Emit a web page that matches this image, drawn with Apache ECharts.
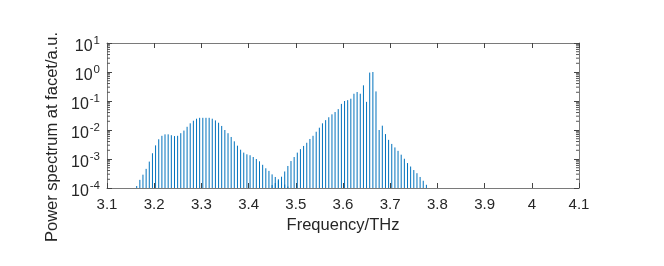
<!DOCTYPE html>
<html>
<head>
<meta charset="utf-8">
<script src="https://cdn.jsdelivr.net/npm/echarts@6/dist/echarts.min.js"></script>
<style>
html,body{margin:0;padding:0;background:#fff;}
#chart{width:664px;height:266px;}
</style>
</head>
<body>
<div id="chart"></div>
<script>
// Frequency bins (THz)
const frequency = [
  3.1629,3.1696,3.1762,3.1829,3.1896,3.1963,3.2029,3.2096,3.2163,3.2229,
  3.2296,3.2363,3.2430,3.2496,3.2563,3.2630,3.2697,3.2763,3.2830,3.2897,
  3.2963,3.3030,3.3097,3.3164,3.3230,3.3297,3.3364,3.3430,3.3497,3.3564,
  3.3631,3.3697,3.3764,3.3831,3.3897,3.3964,3.4031,3.4098,3.4164,3.4231,
  3.4298,3.4365,3.4431,3.4498,3.4565,3.4631,3.4698,3.4765,3.4832,3.4898,
  3.4965,3.5032,3.5098,3.5165,3.5232,3.5299,3.5365,3.5432,3.5499,3.5565,
  3.5632,3.5699,3.5766,3.5832,3.5899,3.5966,3.6033,3.6099,3.6166,3.6232,
  3.6299,3.6366,3.6433,3.6499,3.6566,3.6633,3.6699,3.6766,3.6833,3.6900,
  3.6966,3.7033,3.7100,3.7166,3.7233,3.7300,3.7367,3.7433,3.7500,3.7567,
  3.7634,3.7700,3.7767
];
// Left lobe: bins 0..48
const leftLobe = [
  1.17e-4,1.91e-4,2.88e-4,4.57e-4,8.13e-4,1.58e-3,2.95e-3,4.79e-3,6.31e-3,7.08e-3,
  7.08e-3,6.61e-3,6.17e-3,6.31e-3,7.76e-3,9.55e-3,1.29e-2,1.70e-2,2.09e-2,2.45e-2,
  2.63e-2,2.63e-2,2.63e-2,2.63e-2,2.45e-2,2.14e-2,1.78e-2,1.38e-2,1.00e-2,7.76e-3,
  5.75e-3,4.07e-3,2.88e-3,2.09e-3,1.66e-3,1.45e-3,1.35e-3,1.17e-3,1.00e-3,8.32e-4,
  6.31e-4,4.79e-4,3.89e-4,2.95e-4,2.40e-4,2.00e-4,1.58e-4,1.32e-4,1.12e-4
];
const leftStart = 0;
// Right lobe: bins 43..92
const rightLobe = [
  1.26e-4,1.48e-4,1.82e-4,2.45e-4,3.72e-4,5.75e-4,8.51e-4,1.17e-3,1.66e-3,2.19e-3,
  2.82e-3,3.63e-3,4.90e-3,6.31e-3,8.71e-3,1.20e-2,1.70e-2,2.19e-2,2.75e-2,3.47e-2,
  4.17e-2,5.25e-2,7.94e-2,1.00e-1,1.07e-1,1.20e-1,1.78e-1,2.04e-1,1.78e-1,3.47e-1,
  9.33e-2,9.55e-1,1.00e0,2.14e-1,1.00e-2,1.41e-2,7.24e-3,4.57e-3,3.31e-3,2.51e-3,
  1.91e-3,1.41e-3,1.02e-3,7.24e-4,5.50e-4,4.17e-4,3.24e-4,2.40e-4,1.78e-4,1.29e-4
];
const rightStart = 43;

const xMin = 3.1, xMax = 4.1, xStep = 0.1;
const yMin = 1e-4, yMax = 1e1;
const minorMantissas = [2,3,4,5,6,7,8,9];
const decades = [-4,-3,-2,-1,0];

const FONT = '"Liberation Sans", Arial, Helvetica, sans-serif';
const TXT = '#262626';
const AXC = '#7a7a7a';
const BLUE = '#0072BD';

function stemData(vals, start) {
  return vals.map((v, i) => [frequency[start + i], v]);
}
const minorVals = [];
decades.forEach(d => minorMantissas.forEach(m => minorVals.push([xMin, m * Math.pow(10, d)])));

function stemRender(params, api) {
  const x = api.value(0), y = api.value(1);
  const top = api.coord([x, y]);
  const base = api.coord([x, yMin]);
  return {
    type: 'line',
    shape: { x1: base[0], y1: base[1], x2: top[0], y2: top[1] },
    style: { stroke: BLUE, lineWidth: 1 }
  };
}
function minorRender(params, api) {
  const v = api.value(1);
  const l = api.coord([xMin, v]);
  const r = api.coord([xMax, v]);
  return {
    type: 'group',
    children: [
      { type: 'line', shape: { x1: l[0], y1: l[1], x2: l[0] + 3, y2: l[1] }, style: { stroke: '#555', lineWidth: 1 } },
      { type: 'line', shape: { x1: r[0], y1: r[1], x2: r[0] - 3, y2: r[1] }, style: { stroke: '#555', lineWidth: 1 } }
    ]
  };
}

const yLabelRich = {
  b: { fontSize: 16, fontFamily: FONT, color: TXT, padding: [8, 0, 0, 0] },
  e: { fontSize: 11.5, fontFamily: FONT, color: TXT, padding: [4, 0, 8, 1] }
};

const chart = echarts.init(document.getElementById('chart'), null, { renderer: 'canvas' });
chart.setOption({
  animation: false,
  backgroundColor: '#fff',
  grid: { left: 107, right: 85, top: 43, bottom: 78 },
  graphic: [{
    type: 'text', left: 44, top: 32, rotation: Math.PI / 2,
    style: { text: 'Power spectrum at facet/a.u.', fontSize: 16.5, fontFamily: FONT, fill: TXT }
  }],
  xAxis: [{
    type: 'value', min: xMin, max: xMax, interval: xStep, position: 'bottom',
    name: 'Frequency/THz', nameLocation: 'middle', nameGap: 26,
    nameTextStyle: { fontSize: 16.5, fontFamily: FONT, color: TXT },
    axisLine: { show: true, onZero: false, lineStyle: { color: AXC, width: 1 } },
    axisTick: { show: true, inside: true, length: 5, lineStyle: { color: '#444' } },
    axisLabel: { fontSize: 15, fontFamily: FONT, color: TXT, margin: 9,
      formatter: v => String(parseFloat(v.toFixed(2))) },
    splitLine: { show: false }
  }, {
    type: 'value', min: xMin, max: xMax, interval: xStep, position: 'top',
    axisLine: { show: true, onZero: false, lineStyle: { color: AXC, width: 1 } },
    axisTick: { show: true, inside: true, length: 5, lineStyle: { color: '#444' } },
    axisLabel: { show: false }, splitLine: { show: false }
  }],
  yAxis: [{
    type: 'log', logBase: 10, min: yMin, max: yMax, interval: 1, position: 'left',
    axisLine: { show: true, onZero: false, lineStyle: { color: AXC, width: 1 } },
    axisTick: { show: true, inside: true, length: 5, lineStyle: { color: '#444' } },
    axisLabel: { margin: 7, formatter: v => '{b|10}{e|' + Math.round(Math.log10(v)) + '}', rich: yLabelRich },
    splitLine: { show: false }
  }, {
    type: 'log', logBase: 10, min: yMin, max: yMax, interval: 1, position: 'right',
    axisLine: { show: true, onZero: false, lineStyle: { color: AXC, width: 1 } },
    axisTick: { show: true, inside: true, length: 5, lineStyle: { color: '#444' } },
    axisLabel: { show: false }, splitLine: { show: false }
  }],
  series: [{
    type: 'custom', xAxisIndex: 0, yAxisIndex: 0, renderItem: stemRender,
    data: stemData(leftLobe, leftStart), clip: true
  }, {
    type: 'custom', xAxisIndex: 0, yAxisIndex: 0, renderItem: stemRender,
    data: stemData(rightLobe, rightStart), clip: true
  }, {
    type: 'custom', xAxisIndex: 0, yAxisIndex: 0, renderItem: minorRender,
    data: minorVals, clip: false, silent: true
  }]
});
</script>
</body>
</html>
